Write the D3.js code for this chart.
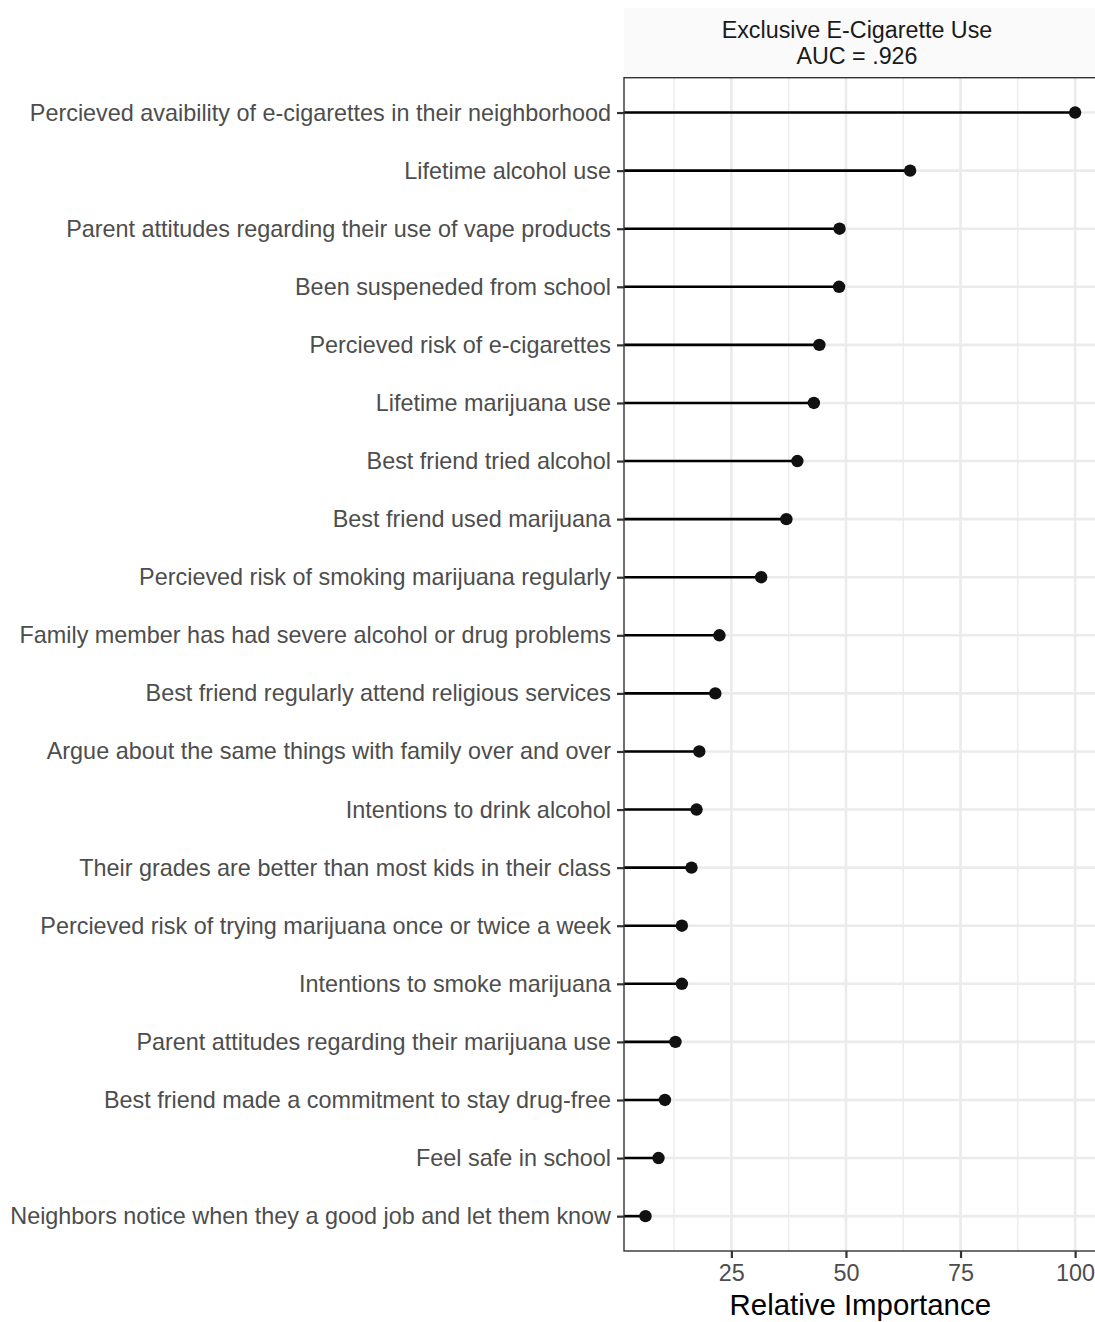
<!DOCTYPE html>
<html>
<head>
<meta charset="utf-8">
<script src="https://cdn.jsdelivr.net/npm/d3@7"></script>
<style>
  html, body { margin: 0; padding: 0; background: #fff; }
  svg { display: block; font-family: "Liberation Sans", Arial, Helvetica, sans-serif; }
</style>
</head>
<body>
<div id="chart"></div>
<script>
// Predictors, top to bottom
const predictors = [
  "Percieved avaibility of e-cigarettes in their neighborhood",
  "Lifetime alcohol use",
  "Parent attitudes regarding their use of vape products",
  "Been suspeneded from school",
  "Percieved risk of e-cigarettes",
  "Lifetime marijuana use",
  "Best friend tried alcohol",
  "Best friend used marijuana",
  "Percieved risk of smoking marijuana regularly",
  "Family member has had severe alcohol or drug problems",
  "Best friend regularly attend religious services",
  "Argue about the same things with family over and over",
  "Intentions to drink alcohol",
  "Their grades are better than most kids in their class",
  "Percieved risk of trying marijuana once or twice a week",
  "Intentions to smoke marijuana",
  "Parent attitudes regarding their marijuana use",
  "Best friend made a commitment to stay drug-free",
  "Feel safe in school",
  "Neighbors notice when they a good job and let them know"
];
const importance = [100, 64.0, 48.6, 48.5, 44.2, 43.0, 39.4, 37.0, 31.5, 22.4,
                    21.5, 18.0, 17.4, 16.3, 14.2, 14.2, 12.8, 10.5, 9.1, 6.26];
const majorTicks = [25, 50, 75, 100];
const minorTicks = [12.5, 37.5, 62.5, 87.5];
const stripLines = ["Exclusive E-Cigarette Use", "AUC = .926"];
const xTitle = "Relative Importance";

const data = predictors.map((p, i) => ({ name: p, value: importance[i] }));

const width = 1095, height = 1322;
const panel = { left: 624, right: 1096.6, top: 77.7, bottom: 1251 };

const svg = d3.select("#chart").append("svg")
  .attr("width", width)
  .attr("height", height);

// Scales (ggplot-style 5% expansion on continuous axis)
const [lo, hi] = d3.extent(importance);
const pad = (hi - lo) * 0.05;
const x = d3.scaleLinear().domain([lo - pad, hi + pad]).range([panel.left, panel.right]);
const y = d3.scalePoint().domain(predictors).range([panel.top, panel.bottom]).padding(0.6);

// Strip
svg.append("rect")
  .attr("x", panel.left).attr("y", 8)
  .attr("width", panel.right - panel.left).attr("height", panel.top - 8)
  .attr("fill", "#fafafa");
svg.append("g").selectAll("text")
  .data(stripLines)
  .join("text")
  .attr("x", 857)
  .attr("y", (d, i) => 38 + i * 26)
  .attr("text-anchor", "middle")
  .attr("fill", "#1a1a1a")
  .style("font-size", "23.3px")
  .text(d => d);

// Grid
const grid = svg.append("g");
grid.selectAll("line.minor")
  .data(minorTicks)
  .join("line")
  .attr("class", "minor")
  .attr("x1", d => x(d)).attr("x2", d => x(d))
  .attr("y1", panel.top).attr("y2", panel.bottom)
  .attr("stroke", "#ebebeb").attr("stroke-width", 1.4);
grid.selectAll("line.vmajor")
  .data(majorTicks)
  .join("line")
  .attr("class", "vmajor")
  .attr("x1", d => x(d)).attr("x2", d => x(d))
  .attr("y1", panel.top).attr("y2", panel.bottom)
  .attr("stroke", "#ebebeb").attr("stroke-width", 2.6);
grid.selectAll("line.hmajor")
  .data(predictors)
  .join("line")
  .attr("class", "hmajor")
  .attr("x1", panel.left).attr("x2", panel.right)
  .attr("y1", d => y(d)).attr("y2", d => y(d))
  .attr("stroke", "#ebebeb").attr("stroke-width", 2.6);

// Clip for marks
svg.append("clipPath").attr("id", "clip")
  .append("rect")
  .attr("x", panel.left).attr("y", panel.top)
  .attr("width", panel.right - panel.left).attr("height", panel.bottom - panel.top);

const marks = svg.append("g").attr("clip-path", "url(#clip)");
marks.selectAll("line")
  .data(data)
  .join("line")
  .attr("x1", x(0)).attr("x2", d => x(d.value))
  .attr("y1", d => y(d.name)).attr("y2", d => y(d.name))
  .attr("stroke", "#000").attr("stroke-width", 2.6);
marks.selectAll("circle")
  .data(data)
  .join("circle")
  .attr("cx", d => x(d.value))
  .attr("cy", d => y(d.name))
  .attr("r", 6.2)
  .attr("fill", "#111");

// Panel border
svg.append("rect")
  .attr("x", panel.left).attr("y", panel.top)
  .attr("width", panel.right - panel.left).attr("height", panel.bottom - panel.top)
  .attr("fill", "none").attr("stroke", "#333").attr("stroke-width", 1.4);

// Axes
const yAxis = svg.append("g")
  .attr("transform", `translate(${panel.left},0)`)
  .call(d3.axisLeft(y).tickSize(7).tickPadding(6));
yAxis.select(".domain").remove();
yAxis.selectAll(".tick line").attr("stroke", "#333").attr("stroke-width", 2.2);
yAxis.selectAll(".tick text")
  .attr("fill", "#4d4d4d")
  .style("font-size", "23.4px")
  .style("font-family", "'Liberation Sans', Arial, sans-serif");

const xAxis = svg.append("g")
  .attr("transform", `translate(0,${panel.bottom})`)
  .call(d3.axisBottom(x).tickValues(majorTicks).tickSize(7).tickPadding(6));
xAxis.select(".domain").remove();
xAxis.selectAll(".tick line").attr("stroke", "#333").attr("stroke-width", 2.2);
xAxis.selectAll(".tick text")
  .attr("fill", "#4d4d4d")
  .style("font-size", "23.4px")
  .style("font-family", "'Liberation Sans', Arial, sans-serif");

svg.append("text")
  .attr("x", (panel.left + panel.right) / 2)
  .attr("y", 1315)
  .attr("text-anchor", "middle")
  .attr("fill", "#000")
  .style("font-size", "29.4px")
  .text(xTitle);
</script>
</body>
</html>
